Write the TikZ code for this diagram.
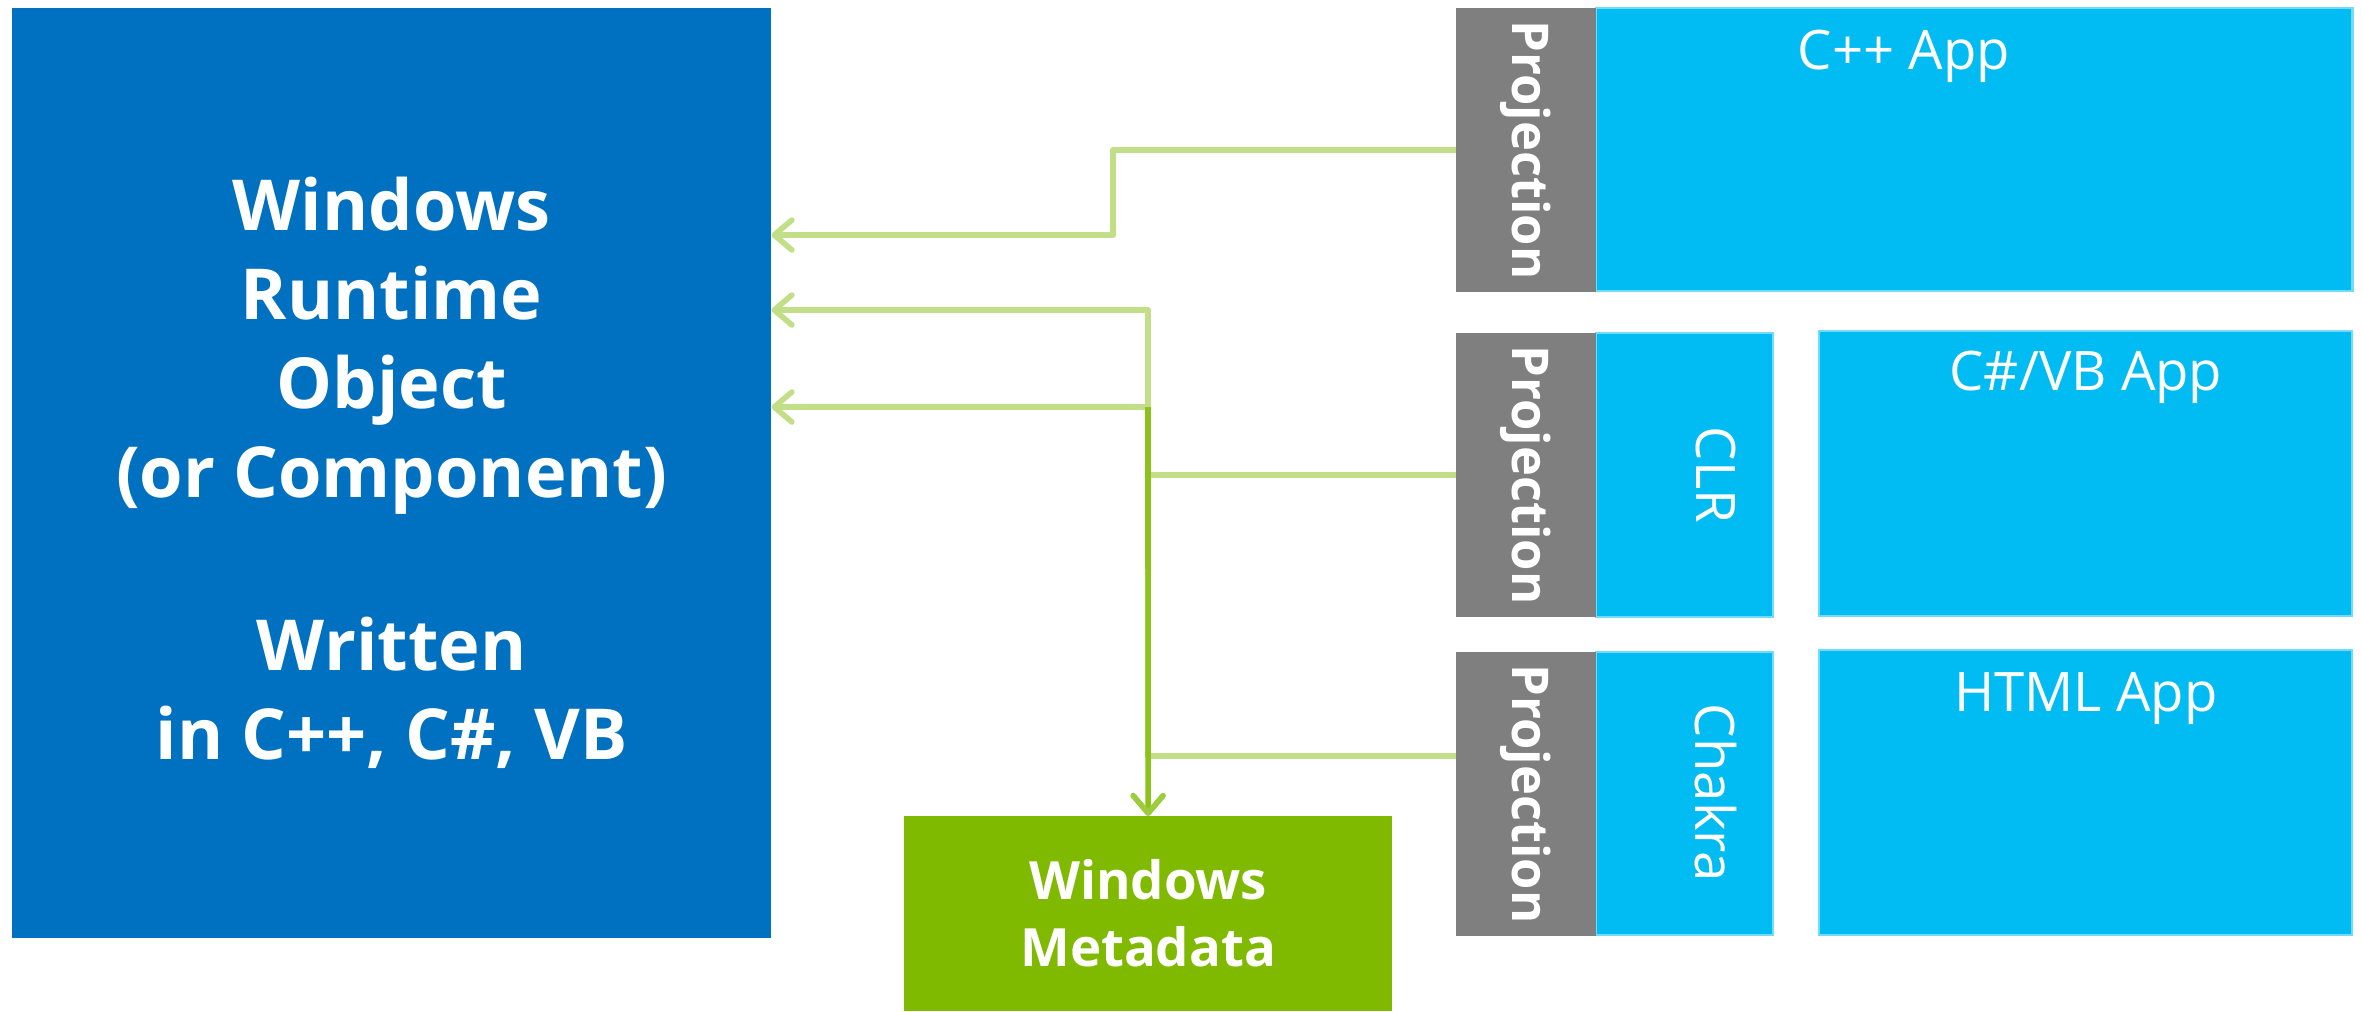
\documentclass[tikz,border=0pt]{standalone}
\usepackage{fontspec}
\setmainfont{Open Sans}
\usetikzlibrary{arrows.meta}
\definecolor{wrblue}{HTML}{0070C0}
\definecolor{appcyan}{HTML}{00BCF2}
\definecolor{projgray}{HTML}{7F7F7F}
\definecolor{metagreen}{HTML}{7FBA00}
\definecolor{feedgreen}{HTML}{C2DF88}
\definecolor{trunkgreen}{HTML}{8CC21C}
\begin{document}
\begin{tikzpicture}[x=0.01cm, y=-0.01cm,
    box/.style={rectangle, inner sep=0pt, outer sep=0pt, anchor=north west},
    appbox/.style={box, fill=appcyan, draw=appcyan!55!white, line width=0.6pt},
    projbox/.style={box, fill=projgray, minimum width=1.40cm, minimum height=2.84cm},
    bigtext/.style={text=white, align=center, font=\bfseries\fontsize{20}{25.3}\selectfont},
    metatext/.style={text=white, align=center, font=\bfseries\fontsize{15}{19}\selectfont},
    projlbl/.style={text=white, inner sep=0pt, font=\bfseries\fontsize{14.4}{18}\selectfont},
    applbl/.style={text=white, inner sep=0pt, font=\fontsize{15.5}{18}\selectfont},
    feed/.style={draw=feedgreen, line width=1.6pt, line join=round,
      -{Straight Barb[length=5pt, width=8.5pt, round]}},
    trunk/.style={draw=trunkgreen, line width=1.6pt,
      -{Straight Barb[length=5pt, width=8.5pt, round, color=trunkgreen!70!feedgreen]}}]
  \useasboundingbox (0,0) rectangle (2362,1011);

  \node[box, fill=wrblue, minimum width=7.59cm, minimum height=9.29cm, bigtext] (wro) at (12,8)
    {Windows\\Runtime\\Object\\(or Component)\\[24pt]Written\\in C++, C\#, VB};
  \node[box, fill=metagreen, minimum width=4.88cm, minimum height=1.95cm, metatext] (meta) at (904,816)
    {Windows\\Metadata};

  \node[appbox, minimum width=7.56cm, minimum height=2.83cm] (cppapp) at (1596,8) {};
  \node[appbox, minimum width=1.77cm, minimum height=2.84cm] (clr) at (1596,333) {};
  \node[appbox, minimum width=5.33cm, minimum height=2.85cm] (csapp) at (1819,331) {};
  \node[appbox, minimum width=1.77cm, minimum height=2.83cm] (chakra) at (1596,652) {};
  \node[appbox, minimum width=5.33cm, minimum height=2.85cm] (htmlapp) at (1819,650) {};

  \foreach \row/\top in {A/8, B/333, C/652} {
    \node[projbox] (proj\row) at (1456,\top) {};
    \node[projlbl, rotate=-90] (proj\row lbl) at (proj\row.center) {Projection};
  }

  \node[applbl, anchor=base] (cpplbl) at (1904,69) {C++ App};
  \node[applbl, anchor=base] (cslbl) at (2086,390) {C\#/VB App};
  \node[applbl, anchor=base] (htmllbl) at (2086,711) {HTML App};
  \node[applbl, rotate=-90] (clrlbl) at (1716,475) {CLR};
  \node[applbl, rotate=-90] (chakralbl) at (1716,793) {Chakra};

  \coordinate (jog) at (1113,235);
  \coordinate (trunkTop) at (1148,310);
  \coordinate (trunkMid) at (1148,407);
  \draw[feed] (projA.west) -| (jog) -- (wro.east |- jog);
  \draw[feed] (projB.west) -| (trunkTop) -- (wro.east |- trunkTop);
  \draw[feed] ([yshift=0.38cm]projC.west) -| (trunkMid) -- (wro.east |- trunkMid);
  \draw[trunk] (trunkMid) -- (meta.north);
\end{tikzpicture}
\end{document}
